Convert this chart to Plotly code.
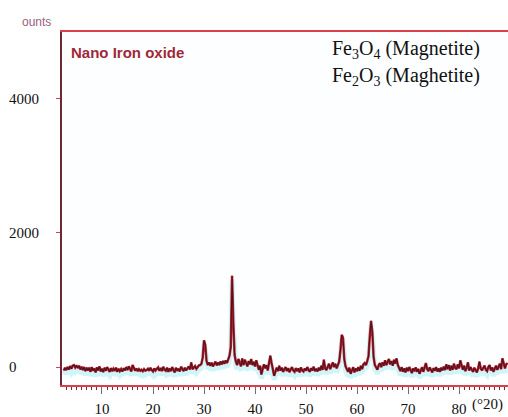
import plotly.graph_objects as go

# --- data ---
two_theta_start = 2.5
two_theta_step = 0.25
counts = [
    # 2.5 - 7.25
    -50, -10, -45, 0, -35, 15, -25, 20, 30, -5, 25, -15, 20, -35, 5, -45, 0, -60, -10, -50,
    # 7.5 - 12.25
    -10, -70, 0, -55, -20, -80, -5, -50, 10, -65, -25, -75, -10, -55, 0, -50, -70, -15, -60, -25,
    # 12.5 - 17.25
    -55, -10, -70, -25, -60, -30, -65, -15, -50, 0, -45, 10, -35, -65, 30, -15, -55, -20, -60, -30,
    # 17.5 - 22.25
    -55, -40, -60, -30, -55, -45, -25, -55, -10, -45, -65, -20, -50, -25, -5, -55, -15, -60, 5, -40,
    # 22.5 - 27.25
    -55, -10, -70, -20, -60, 0, -45, -80, -10, -55, -25, -65, 5, -40, -60, -10, -50, -20, 10, -35,
    # 27.5 - 32.25
    70, -30, -5, 15, -25, 10, 25, 30, 50, 140, 400, 330, 90, 30, 70, 20, 65, 10, 55, 80,
    # 32.5 - 37.25
    25, 70, 30, 85, 40, 90, 50, 100, 60, 120, 170, 300, 1360, 650, 180, 80, 30, 120, 50, 10,
    # 37.5 - 42.25
    130, 30, 110, 50, 10, 90, 40, 120, 30, 80, 10, 100, 20, -40, 20, -110, -30, 40, -20, 30,
    # 42.5 - 47.25
    -50, 40, 170, 60, -40, -130, -70, -10, -60, 20, -50, -10, -70, -20, 0, -60, -15, -75, -30, 0,
    # 47.5 - 52.25
    -50, -70, -15, -60, -20, -80, -5, -50, -65, -20, -55, 0, -45, -70, -15, -50, 5, -60, -25, -65,
    # 52.5 - 57.25
    -10, -50, 20, -40, 110, -20, -45, 10, 50, -30, 30, 70, 0, 50, -20, 40, 80, 250, 480, 440,
    # 57.5 - 62.25
    120, 10, -40, -70, -10, -100, -50, 0, -80, -20, -60, 0, -55, 20, -30, 40, 60, 30, 90, 160,
    # 62.5 - 67.25
    450, 690, 520, 150, 30, 0, -40, 30, 60, 0, 70, 20, 100, 30, 80, 120, 40, 90, 20, 110,
    # 67.5 - 72.25
    50, 130, 30, -30, -60, 0, -70, -20, -80, -10, -60, 0, -50, -90, -20, -60, -5, -70, -25, -100,
    # 72.5 - 77.25
    -50, 0, -70, -20, 60, -30, -60, -5, -50, -80, -15, -55, 0, -65, -20, -70, -10, -50, 5, -45,
    # 77.5 - 82.25
    40, -30, 30, -50, 20, -40, 50, -10, -30, 40, -20, 100, 30, -40, 20, -60, -10, 70, -50, 0,
    # 82.5 - 87.25
    -40, -70, -10, -55, -80, -20, 80, -20, -50, -10, 20, -40, -60, 0, 30, -50, -5, -70, -15, 20,
    # 87.5 - 89.5
    -40, 10, 50, -30, 130, 60, -20, 40, 60,
]
two_theta = [two_theta_start + i * two_theta_step for i in range(len(counts))]

y_tick_vals = [0, 2000, 4000]
y_tick_text = ["0\u2007\u2007\u2007", "2000", "4000"]
x_tick_vals = [10, 20, 30, 40, 50, 60, 70, 80]
x_tick_text = ["10", "20", "30", "40", "50", "60", "70", "80"]

shadow_offset = 60  # scanned cyan shade under the trace

fig = go.Figure()
fig.add_trace(go.Scatter(
    x=two_theta, y=[c - shadow_offset for c in counts], mode="lines",
    line=dict(color="rgba(175,238,245,0.6)", width=5), hoverinfo="skip", showlegend=False))
fig.add_trace(go.Scatter(
    x=two_theta, y=counts, mode="lines",
    line=dict(color="#c8202a", width=2.5), showlegend=False))
fig.add_trace(go.Scatter(
    x=two_theta, y=counts, mode="lines",
    line=dict(color="#4a1420", width=1.1), showlegend=False))

serif = "Liberation Serif"
sans = "Liberation Sans"

fig.update_layout(
    width=508, height=417,
    margin=dict(l=62, r=0, t=32, b=30),
    paper_bgcolor="#ffffff",
    plot_bgcolor="#fcfeff",
    showlegend=False,
    xaxis=dict(
        range=[2.16, 89.6], showgrid=False, zeroline=False,
        showline=True, linecolor="#d8404c", linewidth=1.5, mirror=True,
        tickmode="array", tickvals=x_tick_vals, ticktext=x_tick_text,
        ticks="outside", ticklen=7, tickcolor="#7a6a70", tickwidth=1,
        ticklabelstandoff=2,
        tickfont=dict(family=serif, size=15, color="#111111"),
        minor=dict(dtick=1, tick0=0, ticks="outside", ticklen=3, tickcolor="#8a2030", tickwidth=1),
    ),
    yaxis=dict(
        range=[-267, 4993], showgrid=False, zeroline=False,
        showline=True, linecolor="#6a2838", linewidth=2,
        tickmode="array", tickvals=y_tick_vals, ticktext=y_tick_text,
        ticks="outside", ticklen=4, tickcolor="#d8404c", tickwidth=1,
        ticklabelstandoff=14,
        tickfont=dict(family=serif, size=15, color="#111111"),
    ),
    annotations=[
        dict(text="ounts", xref="paper", yref="paper", x=-0.094, y=1.028,
             xanchor="left", yanchor="middle", showarrow=False,
             font=dict(family=sans, size=12, color="#9a6080")),
        dict(text="<b>Nano Iron oxide</b>", xref="paper", yref="paper", x=0.016, y=0.941,
             xanchor="left", yanchor="middle", showarrow=False,
             font=dict(family=sans, size=15, color="#a02838")),
        dict(text="Fe<sub>3</sub>O<sub>4</sub> (Magnetite)", xref="paper", yref="paper",
             x=0.601, y=0.95, xanchor="left", yanchor="middle", showarrow=False,
             font=dict(family=serif, size=20, color="#111111")),
        dict(text="Fe<sub>2</sub>O<sub>3</sub> (Maghetite)", xref="paper", yref="paper",
             x=0.601, y=0.874, xanchor="left", yanchor="middle", showarrow=False,
             font=dict(family=serif, size=20, color="#111111")),
        dict(text="(°20)", xref="paper", yref="paper", x=0.953, y=-0.056,
             xanchor="center", yanchor="middle", showarrow=False,
             font=dict(family=serif, size=15, color="#111111")),
    ],
)

fig.write_html("out.html", config={"displayModeBar": False},
               post_script="document.body.style.margin='0';")
